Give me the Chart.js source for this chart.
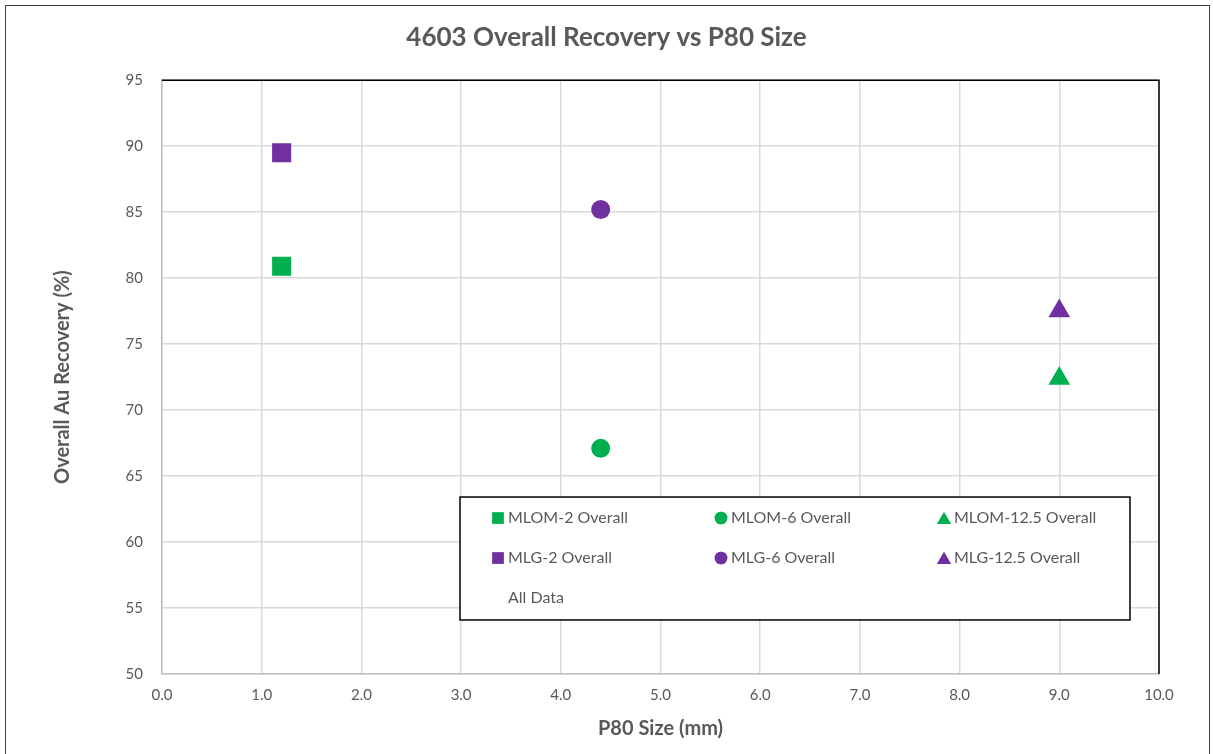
<!DOCTYPE html>
<html>
<head>
<meta charset="utf-8">
<script src="https://cdn.jsdelivr.net/npm/chart.js@4"></script>
<style>
  html, body { margin: 0; padding: 0; background: #ffffff; overflow: hidden; }
  #card { position: relative; width: 1213px; height: 754px; }
  #frame { position: absolute; left: 5px; top: 5px; width: 1203px; height: 800px; border: 1.5px solid #404040; pointer-events: none; }
  canvas { position: absolute; left: 0; top: 0; }
</style>
</head>
<body>
<div id="card">
  <canvas id="chart-canvas" width="1213" height="754"></canvas>
  <div id="frame"></div>
</div>
<script>
// ===== Data =====
var seriesLabels = [
  "MLOM-2 Overall", "MLOM-6 Overall", "MLOM-12.5 Overall",
  "MLG-2 Overall", "MLG-6 Overall", "MLG-12.5 Overall",
  "All Data"
];
var p80Size = [1.2, 4.4, 9.0];            // mm, for the -2, -6, -12.5 samples
var mlomRecovery = [80.9, 67.1, 72.4];    // %
var mlgRecovery = [89.5, 85.2, 77.5];     // %
var xTickRange = [0, 10, 1];
var yTickRange = [50, 95, 5];

var GREEN = "#00b050";
var PURPLE = "#7030a0";
var TEXT = "#595959";
var FONT = "Lato, 'Open Sans', sans-serif";
var shapes = ["rect", "circle", "triangle"];
var radii = [13.5, 9.5, 12.5];

function pointSeries(label, x, y, color, shape, r) {
  return {
    label: label,
    data: [{ x: x, y: y }],
    pointStyle: shape,
    pointRadius: r,
    pointHoverRadius: r,
    backgroundColor: color,
    borderColor: color,
    borderWidth: 0,
    showLine: false
  };
}

var datasets = [];
for (var i = 0; i < 3; i++) {
  datasets.push(pointSeries(seriesLabels[i], p80Size[i], mlomRecovery[i], GREEN, shapes[i], radii[i]));
}
for (var j = 0; j < 3; j++) {
  datasets.push(pointSeries(seriesLabels[3 + j], p80Size[j], mlgRecovery[j], PURPLE, shapes[j], radii[j]));
}
// "All Data" has no marker of its own
datasets.push({ label: seriesLabels[6], data: [], pointStyle: false, showLine: false });

// ===== Plugins =====
// black plot-area frame on top and right, like the Excel plot border
var plotFrame = {
  id: "plotFrame",
  beforeDatasetsDraw: function(chart) {
    var ca = chart.chartArea, ctx = chart.ctx;
    ctx.save();
    ctx.strokeStyle = "#000000";
    ctx.lineWidth = 1.5;
    ctx.beginPath();
    ctx.moveTo(ca.left, ca.top);
    ctx.lineTo(ca.right, ca.top);
    ctx.lineTo(ca.right, ca.bottom);
    ctx.stroke();
    ctx.restore();
  }
};

// legend box drawn inside the plot area, 3 columns
var boxLegend = {
  id: "boxLegend",
  afterDatasetsDraw: function(chart) {
    var ca = chart.chartArea, ctx = chart.ctx;
    var w = ca.right - ca.left, h = ca.bottom - ca.top;
    var bx = ca.left + 0.2989 * w, by = ca.top + 0.702 * h;
    var bw = 0.672 * w, bh = 0.207 * h;
    ctx.save();
    ctx.fillStyle = "#ffffff";
    ctx.fillRect(bx, by, bw, bh);
    ctx.strokeStyle = "#000000";
    ctx.lineWidth = 1.5;
    ctx.strokeRect(bx, by, bw, bh);
    ctx.font = "16px " + FONT;
    ctx.textBaseline = "middle";
    ctx.fillStyle = TEXT;
    var ds = chart.data.datasets;
    for (var k = 0; k < ds.length; k++) {
      var col = k % 3, row = Math.floor(k / 3);
      var mx = bx + 38 + col * 223;
      var my = by + 21 + row * 40;
      if (ds[k].pointStyle) {
        ctx.fillStyle = ds[k].backgroundColor;
        var r = ds[k].pointStyle === "rect" ? 8 : (ds[k].pointStyle === "circle" ? 6.3 : 8);
        Chart.helpers.drawPoint(ctx, { pointStyle: ds[k].pointStyle, radius: r, rotation: 0, borderWidth: 0 }, mx, my + (ds[k].pointStyle === "triangle" ? 2 : 0));
        ctx.fill();
      }
      ctx.fillStyle = TEXT;
      ctx.fillText(ds[k].label, mx + 10, my);
    }
    ctx.restore();
  }
};

// ===== Chart =====
new Chart(document.getElementById("chart-canvas"), {
  type: "scatter",
  data: { datasets: datasets },
  plugins: [plotFrame, boxLegend],
  options: {
    responsive: false,
    animation: false,
    devicePixelRatio: 1,
    layout: { padding: 0 },
    plugins: {
      legend: { display: false },
      tooltip: { enabled: false },
      title: {
        display: true,
        text: "4603 Overall Recovery vs P80 Size",
        color: TEXT,
        font: { family: FONT, size: 26, weight: "bold" },
        padding: { top: 22, bottom: 27 }
      }
    },
    scales: {
      x: {
        type: "linear",
        min: xTickRange[0],
        max: xTickRange[1],
        afterFit: function(s) { s.height = 80; },
        ticks: {
          stepSize: xTickRange[2],
          color: TEXT,
          font: { family: FONT, size: 15 },
          padding: 12,
          maxRotation: 0,
          callback: function(v) { return Number(v).toFixed(1); }
        },
        grid: { color: "#d9d9d9", lineWidth: 1.5, drawTicks: false },
        border: { color: "#bfbfbf", width: 1.5 },
        title: {
          display: true,
          text: "P80 Size (mm)",
          color: TEXT,
          font: { family: FONT, size: 20, weight: "bold" },
          padding: { top: 0, bottom: 13 }
        }
      },
      y: {
        type: "linear",
        min: yTickRange[0],
        max: yTickRange[1],
        afterFit: function(s) { s.width = 162; },
        ticks: {
          stepSize: yTickRange[2],
          color: TEXT,
          font: { family: FONT, size: 15 },
          padding: 19
        },
        grid: { color: "#d9d9d9", lineWidth: 1.5, drawTicks: false },
        border: { color: "#bfbfbf", width: 1.5 },
        title: {
          display: true,
          text: "Overall Au Recovery (%)",
          color: TEXT,
          font: { family: FONT, size: 20, weight: "bold" },
          padding: { top: 51, bottom: 0 }
        }
      },
      // empty right-hand spacer so the title stays centred on the whole canvas
      spacer: {
        type: "linear",
        position: "right",
        display: true,
        afterFit: function(s) { s.width = 54; },
        ticks: { display: false },
        grid: { display: false, drawOnChartArea: false },
        border: { display: false }
      }
    }
  }
});
</script>
</body>
</html>
